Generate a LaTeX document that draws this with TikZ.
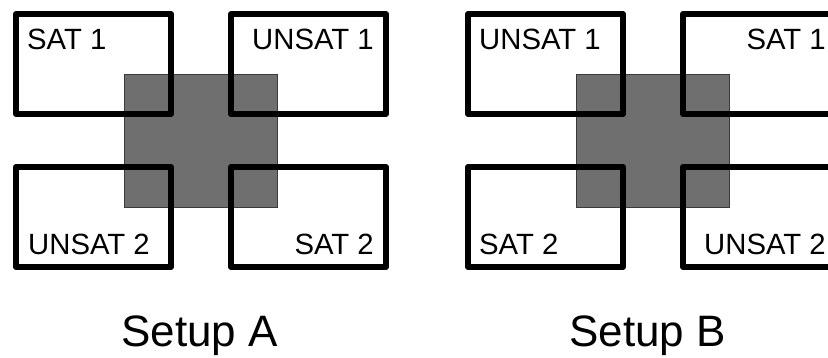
\documentclass[tikz,border=0pt]{standalone}
\usepackage{fontspec}
\setmainfont{Liberation Sans}
\definecolor{sqfill}{HTML}{6F6F6F}
\definecolor{sqline}{HTML}{3A3A3A}
\tikzset{
  satbox/.style={draw=black, line width=6pt, line join=round, inner sep=0pt,
    minimum width=155pt, minimum height=100pt},
  core/.style={fill=sqfill, draw=sqline, line width=0.8pt, inner sep=0pt,
    minimum width=153pt, minimum height=133pt},
  lab/.style={inner sep=0pt, font=\fontsize{29.3}{35}\selectfont},
  setuplab/.style={inner sep=0pt, anchor=base, font=\fontsize{44}{52}\selectfont}
}
\begin{document}
\begin{tikzpicture}[x=1pt,y=-1pt]
\useasboundingbox (0,0) rectangle (828,358);
\clip (0,0) rectangle (828,358);
% Setup A
\node[core] (aCore) at (200.5,140.5) {};
\node[satbox] (aTL) at (93.5,64) {};
\node[satbox] (aTR) at (308.5,64) {};
\node[satbox] (aBL) at (93.5,217) {};
\node[satbox] (aBR) at (308.5,217) {};
\node[lab, anchor=base west] (aTLt) at (27,50) {SAT 1};
\node[lab, anchor=base east] (aTRt) at (374,50) {UNSAT 1};
\node[lab, anchor=base west] (aBLt) at (28,255) {UNSAT 2};
\node[lab, anchor=base east] (aBRt) at (374,255) {SAT 2};
\node[setuplab] (aSetup) at (199.5,347) {Setup A};
% Setup B
\node[core] (bCore) at (652.5,140.5) {};
\node[satbox] (bTL) at (545.5,64) {};
\node[satbox] (bTR) at (760.5,64) {};
\node[satbox] (bBL) at (545.5,217) {};
\node[satbox] (bBR) at (760.5,217) {};
\node[lab, anchor=base west] (bTLt) at (479,50) {UNSAT 1};
\node[lab, anchor=base east] (bTRt) at (826,50) {SAT 1};
\node[lab, anchor=base west] (bBLt) at (479,255) {SAT 2};
\node[lab, anchor=base east] (bBRt) at (826,255) {UNSAT 2};
\node[setuplab] (bSetup) at (647.5,347) {Setup B};
\end{tikzpicture}
\end{document}
